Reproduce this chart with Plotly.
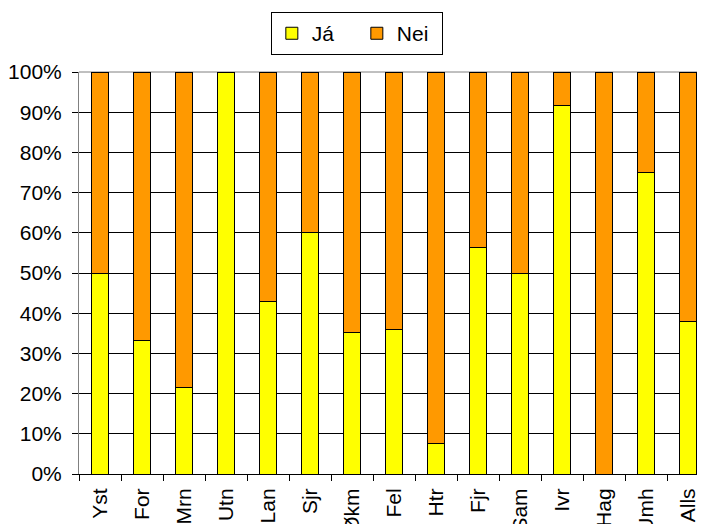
import plotly.graph_objects as go

categories = ["Yst", "For", "Mrn", "Utn", "Lan", "Sjr", "Økm", "Fel", "Htr", "Fjr", "Sam", "Ivr", "Hag", "Umh", "Alls"]
ja_values = [50.0, 33.3, 21.4, 100.0, 42.9, 60.0, 35.3, 35.9, 7.7, 56.3, 50.0, 91.7, 0.0, 75.0, 38.0]
nei_values = [round(100 - v, 1) for v in ja_values]
y_ticks = [0, 10, 20, 30, 40, 50, 60, 70, 80, 90, 100]
y_tick_labels = [f"{t}%" for t in y_ticks]

FONT = "Liberation Sans, Arial, sans-serif"

fig = go.Figure()
fig.add_trace(go.Bar(x=categories, y=ja_values, name="Já",
                     marker=dict(color="#FFFF00", line=dict(color="black", width=1)),
                     width=0.4))
fig.add_trace(go.Bar(x=categories, y=nei_values, name="Nei",
                     marker=dict(color="#FF9900", line=dict(color="black", width=1)),
                     width=0.4))

fig.update_layout(
    width=705, height=524,
    barmode="stack",
    paper_bgcolor="white", plot_bgcolor="white",
    font=dict(family=FONT, size=21, color="black"),
    margin=dict(l=71, r=4, t=64, b=58, autoexpand=False),
    showlegend=True,
    legend=dict(orientation="h", x=0.441, xanchor="center", y=1.149, yanchor="top",
                bordercolor="black", borderwidth=1, bgcolor="white",
                traceorder="normal",
                font=dict(size=21), entrywidth=40, entrywidthmode="pixels",
                itemclick=False),
    xaxis=dict(type="category", range=[-0.5, 14.5], tickson="boundaries",
               ticks="outside", ticklen=6, tickcolor="black",
               showline=True, linecolor="black", linewidth=1,
               tickangle=-90, tickfont=dict(size=21), automargin=False,
               ticklabelstandoff=5, showgrid=False),
    yaxis=dict(range=[0, 100], tickvals=y_ticks, ticktext=y_tick_labels,
               ticks="outside", ticklen=6, tickcolor="black",
               showline=True, linecolor="#808080", linewidth=1,
               showgrid=True, gridcolor="black", gridwidth=1, zeroline=False,
               ticklabelstandoff=6,
               tickfont=dict(size=21), automargin=False),
    shapes=[dict(type="line", xref="paper", yref="paper", x0=0, x1=1, y0=1, y1=1,
                 line=dict(color="#808080", width=1), layer="between")],
)

fig.write_html("out.html")
